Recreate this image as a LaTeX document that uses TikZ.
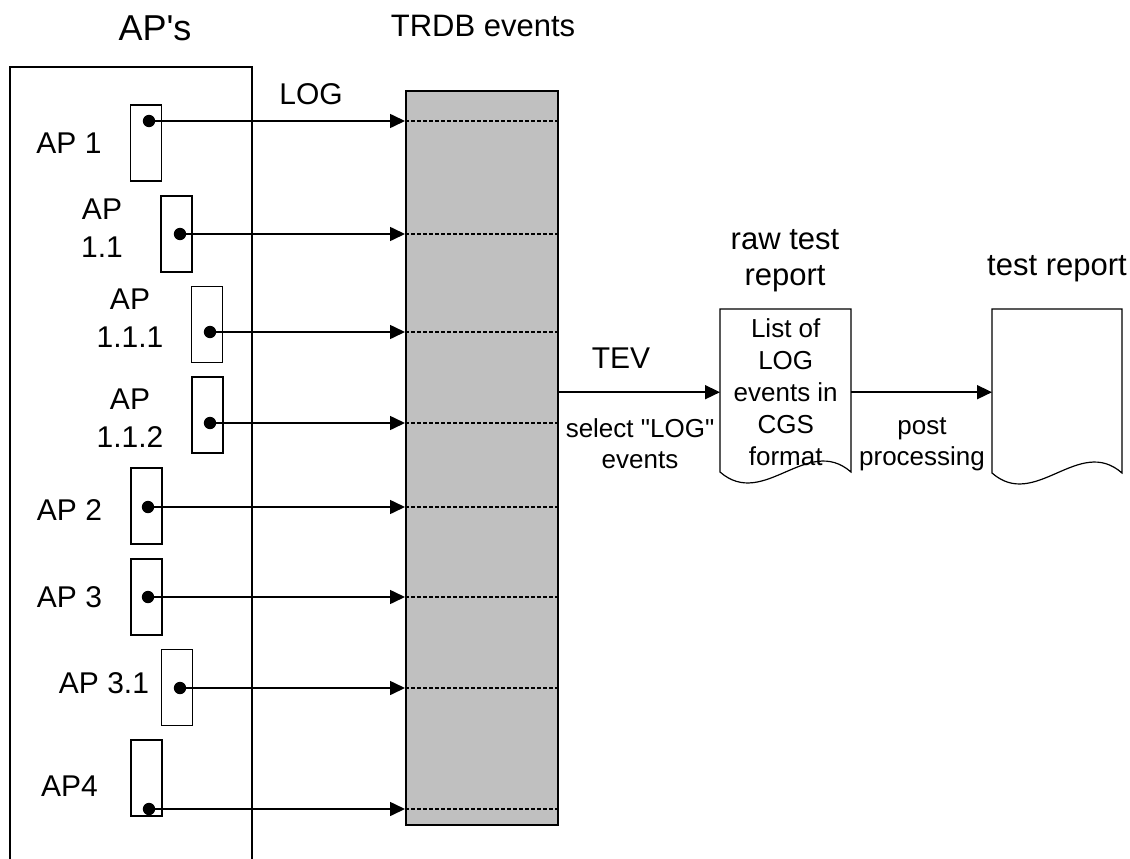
\documentclass[tikz,border=0pt]{standalone}
\usepackage{fontspec}
\setmainfont{Liberation Sans}
\newfontfamily\plainfont{Liberation Sans}
\usetikzlibrary{arrows.meta}
\definecolor{trdbgray}{RGB}{192,192,192}
\begin{document}
\begin{tikzpicture}[x=1pt,y=-1pt,
  lw/.style={line width=1.8pt},
  apbox/.style={draw, lw, fill=white, minimum width=31pt, minimum height=76pt, inner sep=0pt},
  logarrow/.style={line width=1.6pt, -{Triangle[length=15pt,width=14pt]}},
  slot/.style={line width=1.4pt, dash pattern=on 4pt off 2pt},
  lbl/.style={font=\fontsize{30}{38}\selectfont, inner sep=0pt, align=center},
  small/.style={font={\plainfont\fontsize{26}{31}\selectfont}, inner sep=0pt, align=center},
  doctext/.style={font=\fontsize{26}{32}\selectfont, inner sep=0pt, align=center},
  docline/.style={line width=1.2pt},
  dot/.style={fill=black}
]
\useasboundingbox (0,0) rectangle (1130,859);

% titles
\node[anchor=base, inner sep=0pt, font={\plainfont\fontsize{36}{43}\selectfont}] (tAP) at (155,40.7) {AP's};
\node[anchor=base, inner sep=0pt, font=\fontsize{31}{37}\selectfont] (tTRDB) at (483,37) {TRDB events};
\node[anchor=base, lbl] (tLOG) at (311,104) {LOG};

% AP container (open at the bottom)
\draw[lw] (10,859) -- (10,67) -- (252,67) -- (252,859);

% TRDB events store
\node[draw, line width=2pt, fill=trdbgray, minimum width=152pt, minimum height=734pt,
      inner sep=0pt, anchor=north west] (trdb) at (405,90) {};

% AP labels
\node[anchor=base, lbl] (l1) at (69,153) {AP 1};
\node[lbl] (l11) at (102,228) {AP\\1.1};
\node[lbl] (l111) at (130,318) {AP\\1.1.1};
\node[lbl] (l112) at (130,418) {AP\\1.1.2};
\node[anchor=base, lbl] (l2) at (69.5,520) {AP 2};
\node[anchor=base, lbl] (l3) at (69.5,607) {AP 3};
\node[anchor=base, lbl] (l31) at (104,693) {AP 3.1};
\node[anchor=base, lbl] (l4) at (69.5,796) {AP4};

% AP boxes, LOG arrows and event slots
\foreach \n/\bx/\by/\dx/\dy in {1/146/143/149/121, 11/176.5/234/180/234,
    111/207/324.5/210/332, 112/207.5/415/210/423, 2/146.5/506/148/507,
    3/146.5/597/148/597, 31/177/687.5/180/688, 4/146.5/778/149/809}{
  \node[apbox] (box\n) at (\bx,\by) {};
  \coordinate (dot\n) at (\dx,\dy);
  \draw[logarrow] (dot\n) -- (dot\n -| trdb.west);
  \fill[dot] (dot\n) circle[radius=6.2pt];
  \draw[slot] (dot\n -| trdb.west) -- (dot\n -| trdb.east);
}

% documents
\node[doctext, minimum width=131pt, minimum height=166pt, anchor=north west] (raw) at (720,309)
  {List of\\LOG\\events in\\CGS\\format};
\node[inner sep=0pt, minimum width=130pt, minimum height=166pt, anchor=north west] (test) at (992,309) {};
\draw[docline] (720,309) -- (851,309) -- (851,472)
  .. controls (807.3,434) and (763.7,510) .. (720,472) -- cycle;
\draw[docline] (992,309) -- (1122,309) -- (1122,473)
  .. controls (1078.7,435) and (1035.3,511) .. (992,473) -- cycle;

\node[lbl, font=\fontsize{31}{36}\selectfont] (rawt) at (785,261) {raw test\\report};
\node[anchor=base, inner sep=0pt, font=\fontsize{31}{37}\selectfont] (testt) at (1057,275) {test report};

% TEV and post processing
\draw[logarrow] (trdb.east |- raw.west) -- (raw.west);
\node[anchor=base, lbl] (tev) at (621,368) {TEV};
\node[small] (sel) at (640,443.5) {select "LOG"\\events};

\draw[logarrow] (raw.east) -- (test.west);
\node[small] (post) at (922,444) {post\\processing};
\end{tikzpicture}
\end{document}
